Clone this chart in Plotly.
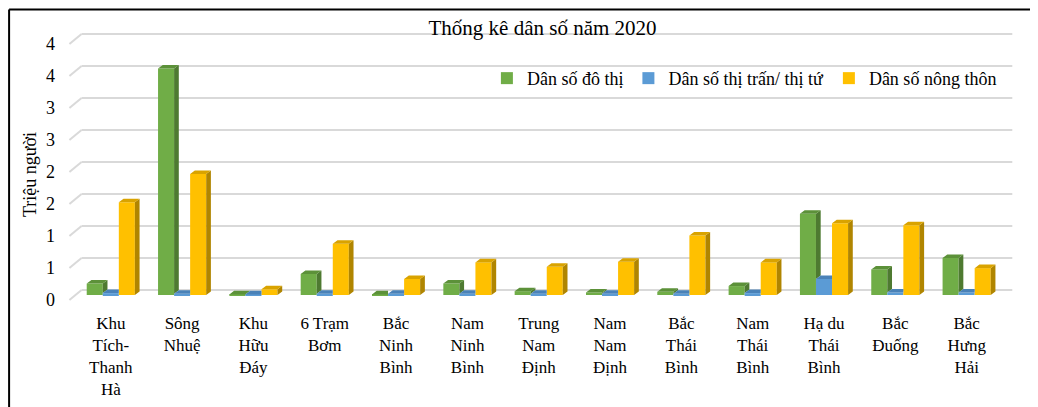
import plotly.graph_objects as go

# Khu vực (tick labels, broken over lines like the original)
regions = ["Khu<br>Tích-<br>Thanh<br>Hà", "Sông<br>Nhuệ", "Khu<br>Hữu<br>Đáy", "6 Trạm<br>Bơm",
           "Bắc<br>Ninh<br>Bình", "Nam<br>Ninh<br>Bình", "Trung<br>Nam<br>Định", "Nam<br>Nam<br>Định",
           "Bắc<br>Thái<br>Bình", "Nam<br>Thái<br>Bình", "Hạ du<br>Thái<br>Bình", "Bắc<br>Đuống",
           "Bắc<br>Hưng<br>Hải"]

# Triệu người
urban = [0.18, 3.54, 0.01, 0.33, 0.01, 0.18, 0.06, 0.04, 0.05, 0.14, 1.27, 0.40, 0.58]
town = [0.03, 0.02, 0.01, 0.02, 0.02, 0.02, 0.02, 0.02, 0.02, 0.03, 0.25, 0.04, 0.04]
rural = [1.45, 1.89, 0.09, 0.80, 0.25, 0.51, 0.44, 0.52, 0.93, 0.51, 1.12, 1.09, 0.42]

series_names = ["Dân số đô thị", "Dân số thị trấn/ thị tứ", "Dân số nông thôn"]

y_ticks = [0, 0.5, 1, 1.5, 2, 2.5, 3, 3.5, 4]
y_ticktext = ["0", "1", "1", "2", "2", "3", "3", "4", "4"]

FONT = "Liberation Serif"
colors = ["#70AD47", "#5B9BD5", "#FFC000"]
side_colors = ["#4E7A31", "#41729F", "#B08500"]
top_colors = ["#5C9139", "#4A82B8", "#D9A300"]
GRID = "#D9D9D9"

BAR_W = 0.225           # width of one bar in category units
DX, DY = 0.066, 0.055   # fake 3D depth (x in categories, y in millions)
BACK = 0.078            # back wall offset of the gridlines

values = [urban, town, rural]
x = list(range(len(regions)))

fig = go.Figure()

for k, vals in enumerate(values):
    off = -1.5 * BAR_W + k * BAR_W
    fig.add_trace(go.Bar(
        x=x, y=vals, width=BAR_W, offset=off,
        name=series_names[k],
        marker=dict(color=colors[k], line_width=0)
    ))

    # the bar on the right hides part of this bar's side and top
    nxt = values[k + 1] if k + 1 < len(values) else [0] * len(vals)
    side_x, side_y, top_x, top_y = [], [], [], []
    for i, v in enumerate(vals):
        xl = i + off
        xr = xl + BAR_W
        base = nxt[i]
        if v > base:
            side_x += [xr, xr + DX, xr + DX, xr, xr, None]
            side_y += [base, base + DY, v + DY, v, base, None]
        right = xr if nxt[i] > v else xr + DX
        top_x += [xl, xl + DX, right, xr, xl, None]
        top_y += [v, v + DY, v + DY, v, v, None]

    fig.add_trace(go.Scatter(
        x=side_x, y=side_y, mode="lines", fill="toself",
        fillcolor=side_colors[k], line=dict(width=0),
        showlegend=False, hoverinfo="skip"
    ))
    fig.add_trace(go.Scatter(
        x=top_x, y=top_y, mode="lines", fill="toself",
        fillcolor=top_colors[k], line=dict(width=0),
        showlegend=False, hoverinfo="skip"
    ))

# gridlines on the back wall with the short diagonal on the floor side
x_front, x_back, x_end = -0.58, -0.41, 12.64
for v in y_ticks:
    fig.add_shape(type="line", xref="x", yref="y", x0=x_front, y0=v - BACK, x1=x_back, y1=v + BACK,
                  line=dict(color=GRID, width=2), layer="below")
    fig.add_shape(type="line", xref="x", yref="y", x0=x_back, y0=v + BACK, x1=x_end, y1=v + BACK,
                  line=dict(color=GRID, width=2), layer="below")

# black frame of the original picture (top and left)
fig.add_shape(type="line", xref="paper", yref="paper", x0=-0.062, y0=1.06, x1=1.05, y1=1.06,
              line=dict(color="black", width=2))
fig.add_shape(type="line", xref="paper", yref="paper", x0=-0.062, y0=1.06, x1=-0.062, y1=-0.5,
              line=dict(color="black", width=2))

fig.add_annotation(text="Triệu người", xref="paper", yref="paper", x=-0.04, y=0.46,
                   xanchor="center", yanchor="middle", textangle=-90, showarrow=False,
                   font=dict(family=FONT, size=18, color="black"))

# the page body has an 8px margin, so the figure is 8px smaller than the window
fig.update_layout(
    title=dict(text="Thống kê dân số năm 2020", x=0.519, y=0.952, xanchor="center", yanchor="middle",
               font=dict(family=FONT, size=21, color="black")),
    barmode="overlay",
    width=1030, height=399,
    margin=dict(l=60, r=20, t=18, b=105),
    paper_bgcolor="white", plot_bgcolor="white",
    font=dict(family=FONT, size=18, color="black"),
    legend=dict(orientation="h", x=0.712, xanchor="center", y=0.81, yanchor="middle",
                bgcolor="rgba(0,0,0,0)", itemwidth=30,
                font=dict(family=FONT, size=18, color="black")),
    xaxis=dict(range=[-0.6, 12.72], tickvals=x, ticktext=regions, showgrid=False, zeroline=False,
               showline=False, ticks="", ticklabelstandoff=9, fixedrange=True, automargin=False,
               tickfont=dict(family=FONT, size=17, color="black")),
    yaxis=dict(range=[-0.109, 4.203], tickvals=y_ticks, ticktext=y_ticktext, showgrid=False,
               zeroline=False, showline=False, ticks="", ticklabelshift=5, ticklabelstandoff=12,
               fixedrange=True, automargin=False, tickfont=dict(family=FONT, size=18, color="black")),
)

fig.write_html("out.html")
